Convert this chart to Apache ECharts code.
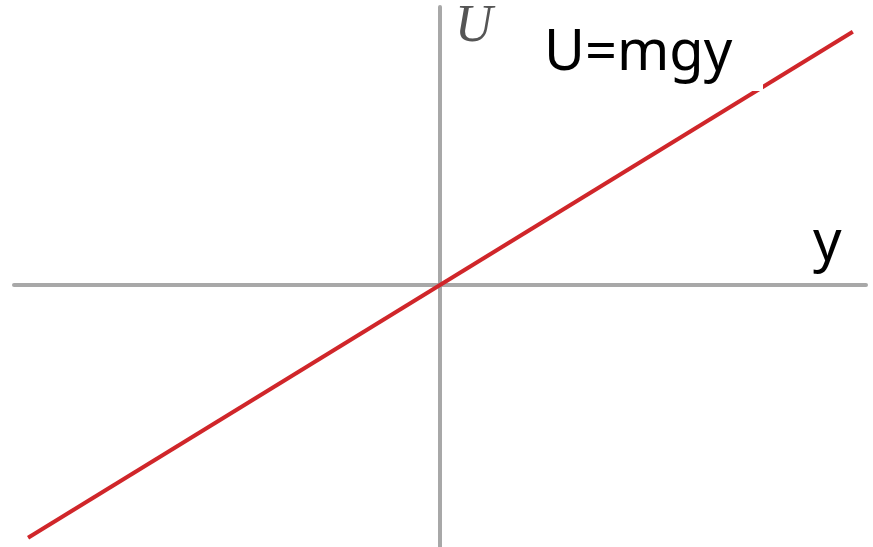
<!DOCTYPE html>
<html>
<head>
<meta charset="utf-8">
<script src="https://cdn.jsdelivr.net/npm/echarts@6/dist/echarts.min.js"></script>
<style>
  html, body { margin: 0; padding: 0; background: #ffffff; }
  #chart { width: 873px; height: 547px; }
</style>
</head>
<body>
<div id="chart"></div>
<script>
// Potential energy U = mgy : a straight line through the origin
const heightY = [-9.67, 9.69];     // y (horizontal axis)
const energyU = [-6.32, 6.33];     // U (vertical axis)
const xRange = [-10, 10];
const yRange = [-6.55, 6.95];
const equationText = 'U=mgy';
const xAxisLabel = 'y';
const yAxisLabel = 'U';

const points = heightY.map((v, i) => [v, energyU[i]]);

const chart = echarts.init(document.getElementById('chart'), null, { renderer: 'canvas' });

const axisStyle = {
  show: true,
  onZero: true,
  lineStyle: { color: '#a8a8a8', width: 4 }
};

chart.setOption({
  backgroundColor: '#ffffff',
  animation: false,
  grid: { left: 14, right: 7, top: 7, bottom: 0 },
  xAxis: {
    type: 'value', min: xRange[0], max: xRange[1],
    axisLine: axisStyle, axisTick: { show: false },
    axisLabel: { show: false }, splitLine: { show: false }
  },
  yAxis: {
    type: 'value', min: yRange[0], max: yRange[1],
    axisLine: axisStyle, axisTick: { show: false },
    axisLabel: { show: false }, splitLine: { show: false }
  },
  series: [{
    type: 'line',
    data: points,
    symbol: 'none',
    lineStyle: { color: '#d0262a', width: 4 },
    z: 3
  }],
  graphic: [
    {
      type: 'text', left: 455, top: 1, z: 10,
      style: {
        text: yAxisLabel, fill: '#555555',
        font: 'italic 52px "Liberation Serif", serif'
      }
    },
    {
      type: 'rect', shape: { x: 520, y: 7, width: 243, height: 84 }, z: 20,
      style: { fill: '#ffffff' }
    },
    {
      type: 'text', left: 544, top: 26, z: 21,
      style: {
        text: equationText, fill: '#000000',
        font: '56px "Noto Sans", sans-serif'
      }
    },
    {
      type: 'text', left: 813, top: 216, z: 21,
      style: {
        text: xAxisLabel, fill: '#000000',
        font: '56px "Noto Sans", sans-serif'
      }
    }
  ]
});
</script>
</body>
</html>
